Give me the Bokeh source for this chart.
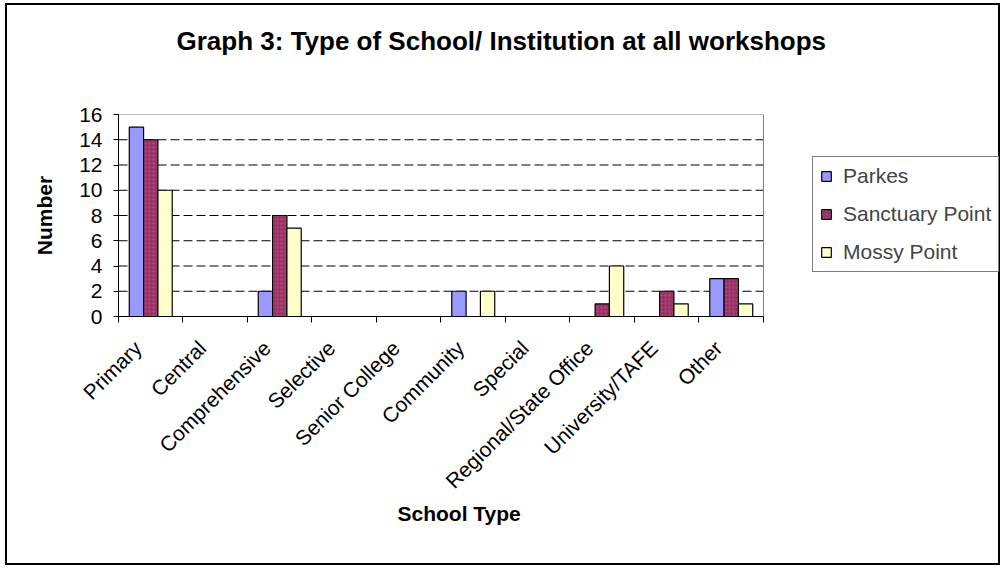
from bokeh.plotting import figure
from bokeh.models import Range1d, FixedTicker, Legend, LegendItem, Title
from bokeh.embed import file_html
from bokeh.resources import INLINE
import math

# School / institution types (x axis categories)
categories = ["Primary", "Central", "Comprehensive", "Selective", "Senior College",
              "Community", "Special", "Regional/State Office", "University/TAFE", "Other"]

# Attendance counts per workshop
parkes = [15, 0, 2, 0, 0, 2, 0, 0, 0, 3]
sanctuary_point = [14, 0, 8, 0, 0, 0, 0, 1, 2, 3]
mossy_point = [10, 0, 7, 0, 0, 2, 0, 4, 1, 1]

series_names = ["Parkes", "Sanctuary Point", "Mossy Point"]
y_ticks = [0, 2, 4, 6, 8, 10, 12, 14, 16]

FONT = "Liberation Sans"

n = len(categories)
x_lo, x_hi = -0.5, n - 0.5          # extent of the category axis
x_view_end = x_hi + 3.69            # extra room on the right for the legend
y_lo, y_hi = y_ticks[0], y_ticks[-1]

p = figure(width=995, height=562, output_backend="svg", toolbar_location=None,
           x_range=Range1d(x_lo, x_view_end), y_range=Range1d(y_lo, y_hi),
           min_border_left=111, min_border_right=1, min_border_top=109,
           min_border_bottom=251, title=None)
# black frame around the whole chart
p.styles = {"border": "2px solid black", "margin-left": "5px", "margin-top": "3px"}
p.background_fill_color = "white"
p.border_fill_color = "white"
p.outline_line_color = None

# dashed horizontal gridlines across the category area
grid_y = y_ticks[1:-1]
p.segment(x0=[x_lo] * len(grid_y), x1=[x_hi] * len(grid_y), y0=grid_y, y1=grid_y,
          line_color="black", line_width=1, line_dash="9 4")
# grey plot-area border (top and right)
p.line(x=[x_lo, x_hi, x_hi], y=[y_hi, y_hi, y_lo], line_color="#808080", line_width=1)

idx = list(range(n))
bw = 0.222
offsets = [-bw, 0.0, bw]
fills = ["#9999FF", "#993366", "#FFFFCC"]

renderers = []
for k, (vals, col) in enumerate(zip([parkes, sanctuary_point, mossy_point], fills)):
    xs = [i + offsets[k] for i in idx]
    kw = dict(x=xs, top=vals, bottom=0, width=bw, fill_color=col,
              line_color="black", line_width=1.2)
    if k == 1:
        kw.update(hatch_pattern="dot", hatch_color="#c97aa1", hatch_scale=4,
                  hatch_weight=1, hatch_alpha=0.45)
    renderers.append(p.vbar(**kw))

# x axis: slanted labels ending just left of each group centre,
# small ticks at the category boundaries
label_pos = [round(i - 0.2, 2) for i in idx]
xa = p.xaxis[0]
xa.bounds = (x_lo, x_hi)
xa.ticker = FixedTicker(ticks=label_pos, minor_ticks=[i - 0.5 for i in range(n + 1)])
xa.major_label_overrides = {pos: c for pos, c in zip(label_pos, categories)}
xa.major_label_orientation = math.pi / 4
xa.major_tick_out = 0
xa.major_tick_in = 0
xa.minor_tick_out = 6
xa.minor_tick_in = 0
xa.minor_tick_line_color = "black"
xa.axis_line_color = "black"
xa.major_label_text_font = FONT
xa.major_label_text_font_size = "21px"
xa.major_label_text_color = "black"
xa.major_label_standoff = 22

ya = p.yaxis[0]
ya.ticker = FixedTicker(ticks=y_ticks)
ya.major_tick_out = 5
ya.major_tick_in = 0
ya.minor_tick_line_color = None
ya.axis_line_color = "black"
ya.major_label_text_font = FONT
ya.major_label_text_font_size = "21px"
ya.major_label_text_color = "black"
ya.major_label_standoff = 11
ya.axis_label = "Number"
ya.axis_label_text_font = FONT
ya.axis_label_text_font_size = "21px"
ya.axis_label_text_font_style = "bold"
ya.axis_label_text_color = "black"
ya.axis_label_standoff = 20

p.xgrid.grid_line_color = None
p.ygrid.grid_line_color = None

# chart title (a blank spacer keeps it clear of the plot area)
p.add_layout(Title(text=" ", text_font_size="1px", standoff=51), "above")
p.add_layout(Title(text="Graph 3: Type of School/ Institution at all workshops",
                   align="left", offset=58, text_font=FONT, text_font_size="26px",
                   text_font_style="bold", text_color="black", standoff=10), "above")

# x axis title
p.add_layout(Title(text="School Type", align="left", offset=279, text_font=FONT,
                   text_font_size="21px", text_font_style="bold", text_color="black",
                   standoff=-8), "below")

# legend to the right of the category area
legend = Legend(items=[LegendItem(label=s, renderers=[r]) for s, r in zip(series_names, renderers)],
                location=(694, 44), orientation="vertical",
                label_text_font=FONT, label_text_font_size="21px",
                label_height=24, glyph_height=12, glyph_width=12,
                label_standoff=11, spacing=14, padding=7, margin=0,
                border_line_color="black", border_line_width=1,
                background_fill_color="white", background_fill_alpha=1)
p.add_layout(legend, "center")

open("out.html", "w").write(file_html(p, INLINE))
